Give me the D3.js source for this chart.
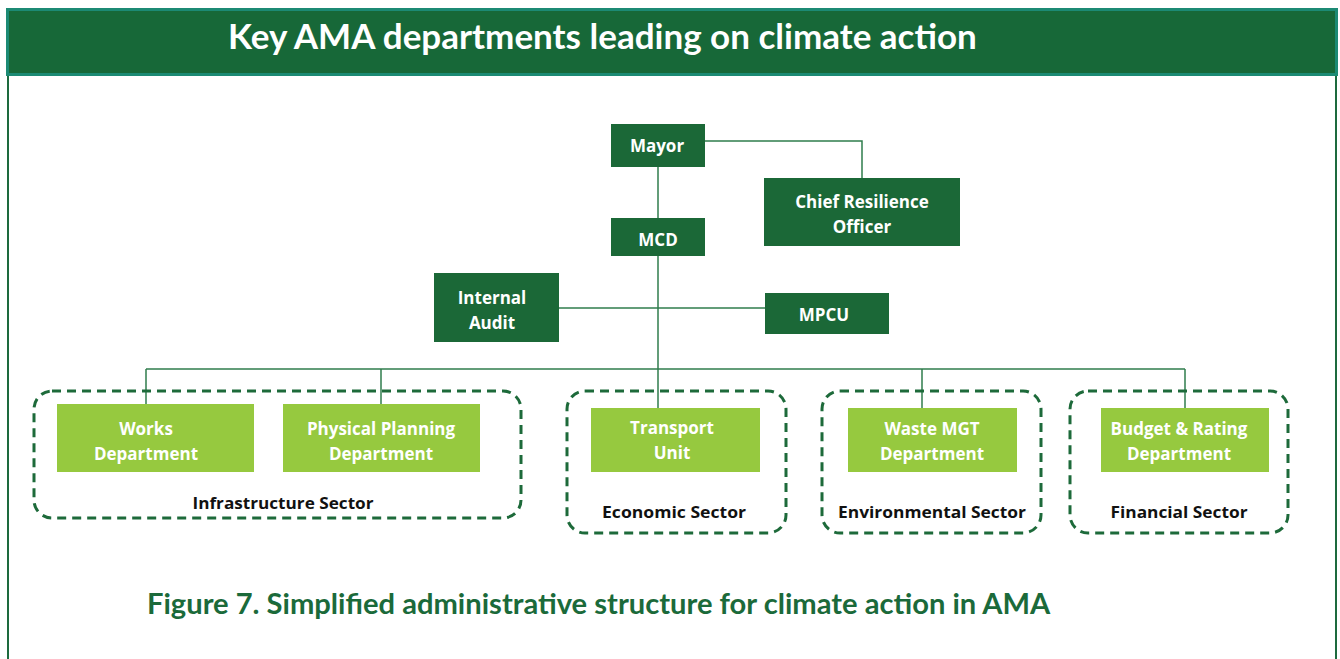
<!DOCTYPE html>
<html><head><meta charset="utf-8">
<script src="https://cdn.jsdelivr.net/npm/d3@7"></script>
<style>body{margin:0;background:#fff;}svg{display:block;}</style>
</head><body>
<svg id="chart" width="1340" height="659"></svg>
<script>
const titleText = "Key AMA departments leading on climate action";
const captionText = "Figure 7. Simplified administrative structure for climate action in AMA";
// leadership units (dark boxes)
const leaders = ["Mayor", "Chief Resilience Officer", "MCD", "Internal Audit", "MPCU"];
const leaderLines = [["Mayor"], ["Chief Resilience", "Officer"], ["MCD"], ["Internal", "Audit"], ["MPCU"]];
// departments (light boxes) and their sectors
const departments = ["Works Department", "Physical Planning Department", "Transport Unit", "Waste MGT Department", "Budget & Rating Department"];
const departmentLines = [["Works", "Department"], ["Physical Planning", "Department"], ["Transport", "Unit"], ["Waste MGT", "Department"], ["Budget & Rating", "Department"]];
const departmentSector = ["Infrastructure Sector", "Infrastructure Sector", "Economic Sector", "Environmental Sector", "Financial Sector"];
const sectors = ["Infrastructure Sector", "Economic Sector", "Environmental Sector", "Financial Sector"];

const svg = d3.select("#chart");
const C = {header:"#176838", headerBorder:"#1c8a74", dark:"#1b6837", light:"#96c93f", line:"#2f7d4c", dash:"#1d6a3a", caption:"#1b6a3a"};

// layout
const L = {
  Mayor:{x:611,y:124,w:94,h:43,tx:657,ty:152},
  "Chief Resilience Officer":{x:764,y:178,w:196,h:68,tx:862,ty:220},
  MCD:{x:611,y:218,w:94,h:38,tx:658,ty:246},
  "Internal Audit":{x:434,y:273,w:125,h:69,tx:492,ty:316},
  MPCU:{x:765,y:293,w:124,h:41,tx:824,ty:321},
  "Works Department":{x:57,y:404,w:197,h:68,tx:146,ty:447},
  "Physical Planning Department":{x:283,y:404,w:197,h:68,tx:381,ty:447},
  "Transport Unit":{x:591,y:408,w:169,h:64,tx:672,ty:446},
  "Waste MGT Department":{x:848,y:408,w:169,h:64,tx:932,ty:447},
  "Budget & Rating Department":{x:1101,y:408,w:168,h:64,tx:1179,ty:447}
};
const S = {
  "Infrastructure Sector":{x:34,y:391,w:487,h:127,lx:283,ly:509},
  "Economic Sector":{x:567,y:391,w:219,h:142,lx:674,ly:518},
  "Environmental Sector":{x:822,y:391,w:219,h:142,lx:932,ly:518},
  "Financial Sector":{x:1070,y:391,w:218,h:142,lx:1179,ly:518}
};

// frame
svg.append("line").attr("x1",8).attr("x2",8).attr("y1",70).attr("y2",659).attr("stroke","#1d6a3e").attr("stroke-width",2);
svg.append("line").attr("x1",1336).attr("x2",1336).attr("y1",70).attr("y2",659).attr("stroke","#1d6a3e").attr("stroke-width",2);
svg.append("rect").attr("x",7.5).attr("y",9.5).attr("width",1329).attr("height",65)
  .attr("fill",C.header).attr("stroke",C.headerBorder).attr("stroke-width",3);

function fitText(sel, target){
  const len = sel.node().getComputedTextLength();
  const fs = parseFloat(sel.attr("font-size"));
  sel.attr("font-size", fs*target/len);
}
const title = svg.append("text").attr("x",228).attr("y",49).attr("fill","#fff")
  .attr("font-family","Lato, 'Open Sans', sans-serif").attr("font-weight",700).attr("font-size",30)
  .text(titleText);
fitText(title, 749);

// connectors
const cx = n => L[n].x + L[n].w/2;
const lines = [];
lines.push([[L.Mayor.x+L.Mayor.w, 141],[cx("Chief Resilience Officer"),141],[cx("Chief Resilience Officer"), L["Chief Resilience Officer"].y]]);
lines.push([[cx("Mayor"), L.Mayor.y+L.Mayor.h],[cx("MCD"), L.MCD.y]]);
lines.push([[cx("MCD"), L.MCD.y+L.MCD.h],[cx("MCD"), L["Transport Unit"].y]]);
lines.push([[L["Internal Audit"].x+L["Internal Audit"].w, 308],[L.MPCU.x,308]]);
const busY = 369;
const dropX = {"Works Department":146,"Physical Planning Department":381,"Transport Unit":658,"Waste MGT Department":922,"Budget & Rating Department":1185};
lines.push([[d3.min(Object.values(dropX)),busY],[d3.max(Object.values(dropX)),busY]]);
departments.forEach(d=>{ if(d!=="Transport Unit") lines.push([[dropX[d],busY],[dropX[d],L[d].y]]); });
const lineGen = d3.line();
svg.append("g").selectAll("path").data(lines).join("path")
  .attr("d",lineGen).attr("fill","none").attr("stroke",C.line).attr("stroke-width",1.5);

// sectors
const sg = svg.append("g").selectAll("g").data(sectors).join("g");
sg.append("rect").attr("x",d=>S[d].x).attr("y",d=>S[d].y).attr("width",d=>S[d].w).attr("height",d=>S[d].h)
  .attr("rx",18).attr("fill","none").attr("stroke",C.dash).attr("stroke-width",3).attr("stroke-dasharray","9,6");
sg.append("text").attr("x",d=>S[d].lx).attr("y",d=>S[d].ly).attr("text-anchor","middle")
  .attr("font-family","'Open Sans', sans-serif").attr("font-weight",700).attr("font-size",16).attr("fill","#111")
  .attr("textLength",d=>({"Infrastructure Sector":181,"Economic Sector":144,"Environmental Sector":188,"Financial Sector":137})[d])
  .attr("lengthAdjust","spacingAndGlyphs")
  .text(d=>d);

function drawBoxes(names, linesArr, fill){
  const g = svg.append("g").selectAll("g").data(names).join("g");
  g.append("rect").attr("x",d=>L[d].x).attr("y",d=>L[d].y).attr("width",d=>L[d].w).attr("height",d=>L[d].h).attr("fill",fill);
  g.each(function(d,i){
    const ls = linesArr[i];
    const lh = 25;
    const t = d3.select(this).append("text").attr("text-anchor","middle")
      .attr("font-family","'Open Sans', sans-serif").attr("font-weight",700).attr("font-size",17).attr("fill","#fff");
    ls.forEach((s,j)=>{
      t.append("tspan").attr("x",L[d].tx).attr("y", L[d].ty + (j-(ls.length-1)/2)*lh).text(s);
    });
  });
}
drawBoxes(leaders, leaderLines, C.dark);
drawBoxes(departments, departmentLines, C.light);

const cap = svg.append("text").attr("x",147).attr("y",614).attr("fill",C.caption)
  .attr("font-family","Lato, 'Open Sans', sans-serif").attr("font-weight",700).attr("font-size",24)
  .text(captionText);
fitText(cap, 904);
</script>
</body></html>
